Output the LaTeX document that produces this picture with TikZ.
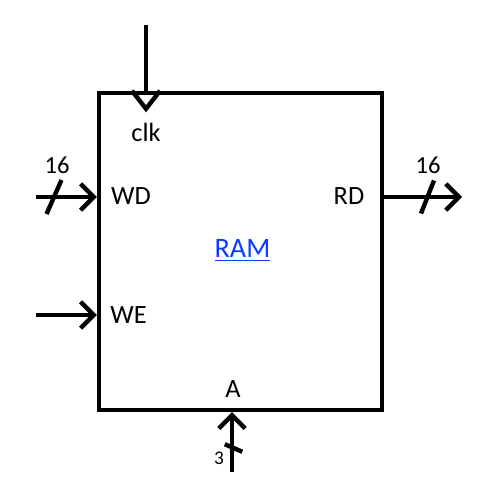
\documentclass[tikz,border=0pt]{standalone}
\usepackage{fontspec}
\setmainfont{Carlito}
\usetikzlibrary{arrows.meta}
\definecolor{ramblue}{HTML}{0A3CFF}
\tikzset{
  every picture/.style={line join=miter, line cap=butt, >={Straight Barb[length=7.5pt,width=15pt]}},
  wire/.style={line width=2.5pt},
  pin/.style={font=\fontsize{15}{18}\selectfont, inner sep=0pt, anchor=base},
  buswidth/.style={font=\fontsize{14}{16}\selectfont, inner sep=0pt, anchor=base},
}

\begin{document}
\begin{tikzpicture}
\useasboundingbox (0,0) rectangle (10,10);
\node[draw,wire,minimum width=5.66cm,minimum height=6.34cm,inner sep=0pt] (ram) at (4.81,4.97) {};
\node[pin,text=ramblue,font=\fontsize{16}{19}\selectfont] (name) at (4.85,4.84) {\underline{RAM}};
% pin labels
\node[pin] (clk) at (2.92,7.17) {clk};
\node[pin] (wd) at (2.62,5.90) {WD};
\node[pin] (we) at (2.57,3.52) {WE};
\node[pin] (rd) at (6.98,5.90) {RD};
\node[pin] (a) at (4.66,2.04) {A};
% clock
\coordinate (clkin) at (2.92,9.50);
\draw[wire] (clkin) -- (clkin |- ram.north);
\draw[wire] ([xshift=-0.28cm]clkin |- ram.north) -- ++(0.28,-0.36) -- ++(0.28,0.36);
% write data
\coordinate (wdin) at (0.72,6.06);
\draw[wire,->] (wdin) -- (wdin -| ram.west);
\draw[wire] (1.08,6.06) +(-0.15,-0.34) -- +(0.15,0.34);
\node[buswidth] (wdbus) at (1.14,6.52) {16};
% write enable
\coordinate (wein) at (0.72,3.70);
\draw[wire,->] (wein) -- (wein -| ram.west);
% read data
\coordinate (rdout) at (9.24,6.06);
\draw[wire,->] (rdout -| ram.east) -- (rdout);
\draw[wire] (8.55,6.06) +(-0.13,-0.33) -- +(0.13,0.33);
\node[buswidth] (rdbus) at (8.56,6.52) {16};
% address
\coordinate (ain) at (4.64,0.56);
\draw[wire,->] (ain) -- (ain |- ram.south);
\draw[wire] (4.67,1.04) +(-0.175,0.075) -- +(0.175,-0.075);
\node[buswidth,font=\fontsize{11}{13}\selectfont] (abus) at (4.38,0.70) {3};
\end{tikzpicture}
\end{document}
